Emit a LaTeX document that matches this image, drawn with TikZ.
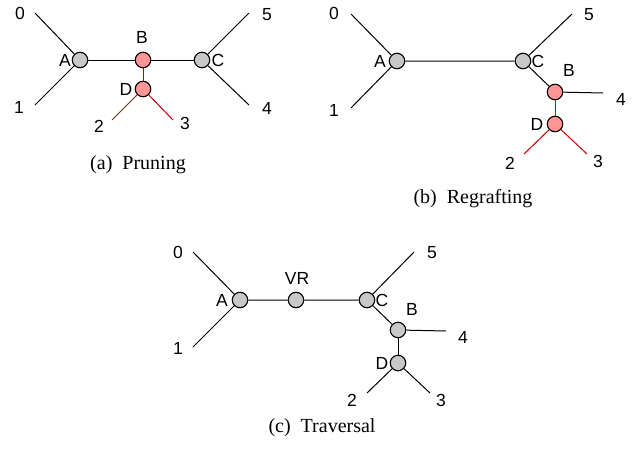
\documentclass[tikz,border=0pt]{standalone}
\usepackage{fontspec}
\setmainfont{Liberation Serif}
\setsansfont{Liberation Sans}
\definecolor{nodegray}{RGB}{200,200,200}
\definecolor{nodepink}{RGB}{255,150,150}
\definecolor{edgered}{RGB}{192,0,0}
\begin{document}
\begin{tikzpicture}[x = 1pt, y = -1pt,
		vertex/.style = {circle, draw, line width = 1.1pt, fill = nodegray, minimum size = 15.5pt, inner sep = 0pt},
		pruned/.style = {vertex, fill = nodepink},
		branch/.style = {line width = 1pt},
		cut/.style = {branch, edgered},
		tag/.style = {font = \sffamily\fontsize{17.5}{17.5}\selectfont, inner sep = 0pt},
		caption/.style = {font = \fontsize{20}{20}\selectfont, inner sep = 0pt}]
	\useasboundingbox (0, 0) rectangle (639, 452);
	% (a) the subtree at B is cut off
	\begin{scope}[name prefix = a-]
		% inner vertices
		\node[vertex] (A) at (80,  60) {};
		\node[pruned] (B) at (143, 60) {};
		\node[vertex] (C) at (202, 60) {};
		\node[pruned] (D) at (143, 89) {};
		% leaves
		\coordinate (l0) at (35,  13);
		\coordinate (l1) at (35,  105);
		\coordinate (l2) at (112, 120);
		\coordinate (l3) at (173, 120);
		\coordinate (l4) at (249, 105);
		\coordinate (l5) at (249, 13);
		% branches
		\draw[branch] (l0) -- (A) -- (l1);
		\draw[branch] (A) -- (B) -- (C);
		\draw[branch] (l5) -- (C) -- (l4);
		\draw[cut] (B) -- (D);
		\draw[cut] (l2) -- (D) -- (l3);
		% names
		\node[tag] (tA) at (65,  60) {A};
		\node[tag] (tB) at (142, 37) {B};
		\node[tag] (tC) at (218, 60) {C};
		\node[tag] (tD) at (126, 89) {D};
		\node[tag] (t0) at (20,  13) {0};
		\node[tag] (t1) at (19,  107) {1};
		\node[tag] (t2) at (99,  126) {2};
		\node[tag] (t3) at (185, 123) {3};
		\node[tag] (t4) at (267, 108) {4};
		\node[tag] (t5) at (267, 15) {5};
		\node[caption] (cap) at (138, 165) {(a)\enspace Pruning};
	\end{scope}
	% (b) the subtree is put back on the branch C--4
	\begin{scope}[name prefix = b-]
		% inner vertices
		\node[vertex] (A) at (397, 61) {};
		\node[vertex] (C) at (523, 61) {};
		\node[pruned] (B) at (555, 92) {};
		\node[pruned] (D) at (555, 124) {};
		% leaves
		\coordinate (l0) at (351, 14);
		\coordinate (l1) at (351, 108);
		\coordinate (l2) at (524, 154);
		\coordinate (l3) at (587, 154);
		\coordinate (l4) at (603, 93);
		\coordinate (l5) at (572, 14);
		% branches
		\draw[branch] (l0) -- (A) -- (l1);
		\draw[branch] (A) -- (C) -- (B) -- (l4);
		\draw[branch] (l5) -- (C);
		\draw[cut] (B) -- (D);
		\draw[cut] (l2) -- (D) -- (l3);
		% names
		\node[tag] (tA) at (380, 61) {A};
		\node[tag] (tB) at (569, 70) {B};
		\node[tag] (tC) at (538, 61) {C};
		\node[tag] (tD) at (537, 124) {D};
		\node[tag] (t0) at (334, 13) {0};
		\node[tag] (t1) at (334, 110) {1};
		\node[tag] (t2) at (510, 163) {2};
		\node[tag] (t3) at (598, 161) {3};
		\node[tag] (t4) at (621, 99) {4};
		\node[tag] (t5) at (589, 15) {5};
		\node[caption] (cap) at (473, 199) {(b)\enspace Regrafting};
	\end{scope}
	% (c) the virtual root walks along the tree
	\begin{scope}[name prefix = c-]
		% inner vertices
		\node[vertex] (A)  at (240, 300) {};
		\node[vertex] (VR) at (296, 300) {};
		\node[vertex] (C)  at (367, 300) {};
		\node[vertex] (B)  at (398, 330) {};
		\node[vertex] (D)  at (398, 363) {};
		% leaves
		\coordinate (l0) at (193, 252);
		\coordinate (l1) at (193, 347);
		\coordinate (l2) at (367, 393);
		\coordinate (l3) at (430, 393);
		\coordinate (l4) at (446, 331);
		\coordinate (l5) at (414, 252);
		% branches
		\draw[branch] (l0) -- (A) -- (l1);
		\draw[branch] (A) -- (VR) -- (C) -- (B) -- (l4);
		\draw[branch] (l5) -- (C);
		\draw[branch] (B) -- (D);
		\draw[branch] (l2) -- (D) -- (l3);
		% names
		\node[tag] (tA)  at (222, 300) {A};
		\node[tag] (tVR) at (297, 278) {VR};
		\node[tag] (tB)  at (412, 309) {B};
		\node[tag] (tC)  at (382, 300) {C};
		\node[tag] (tD)  at (382, 363) {D};
		\node[tag] (t0)  at (178, 252) {0};
		\node[tag] (t1)  at (178, 348) {1};
		\node[tag] (t2)  at (352, 400) {2};
		\node[tag] (t3)  at (441, 400) {3};
		\node[tag] (t4)  at (463, 337) {4};
		\node[tag] (t5)  at (432, 253) {5};
		\node[caption] (cap) at (322, 428) {(c)\enspace Traversal};
	\end{scope}
\end{tikzpicture}
\end{document}
